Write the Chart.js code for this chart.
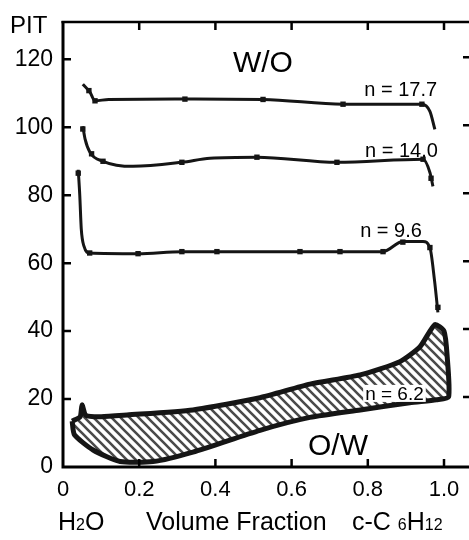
<!DOCTYPE html>
<html><head><meta charset="utf-8">
<script src="https://cdn.jsdelivr.net/npm/chart.js@4.4.1/dist/chart.umd.min.js"></script>
<style>html,body{margin:0;padding:0;background:#fff;overflow:hidden}#wrap{width:469px;height:540px}canvas{display:block}</style>
</head><body><div id="wrap"><canvas id="c" width="469" height="540"></canvas></div>
<script>
// ---- data ----
const xTicks = [0, 0.2, 0.4, 0.6, 0.8, 1.0];
const xTickLabels = ['0', '0.2', '0.4', '0.6', '0.8', '1.0'];
const yTicks = [0, 20, 40, 60, 80, 100, 120];

// n = 17.7
const n177X = [0.052, 0.071, 0.084, 0.12, 0.32, 0.525, 0.735, 0.942, 0.963, 0.976];
const n177Y = [112.7, 110.3, 107.8, 108.2, 108.3, 108.2, 106.8, 106.8, 104.7, 99.4];
const n177MX = [0.068, 0.084, 0.32, 0.525, 0.735, 0.942];
const n177MY = [110.8, 107.8, 108.3, 108.2, 106.8, 106.8];

// n = 14.0
const n140X = [0.052, 0.058, 0.071, 0.105, 0.184, 0.312, 0.386, 0.509, 0.719, 0.945, 0.963, 0.971];
const n140Y = [100.3, 96.5, 92.6, 90.0, 88.5, 89.7, 90.9, 91.2, 89.7, 90.6, 86.7, 82.6];
const n140MX = [0.052, 0.075, 0.105, 0.312, 0.509, 0.719, 0.945, 0.966];
const n140MY = [99.5, 92.2, 90.0, 89.7, 91.2, 89.7, 90.6, 85.0];

// n = 9.6
const n96X = [0.040, 0.044, 0.048, 0.055, 0.070, 0.197, 0.312, 0.404, 0.622, 0.727, 0.84, 0.892, 0.945, 0.963, 0.975, 0.984];
const n96Y = [87.5, 80, 70, 65, 63, 62.8, 63.4, 63.4, 63.4, 63.4, 63.4, 66.4, 66.4, 64.6, 55, 45.5];
const n96MX = [0.040, 0.070, 0.197, 0.312, 0.404, 0.622, 0.727, 0.84, 0.892, 0.963, 0.984];
const n96MY = [86.5, 63.0, 62.8, 63.4, 63.4, 63.4, 63.4, 63.4, 66.2, 64.6, 47.0];

// n = 6.2 (band outline: upper edge left->right, then lower edge right->left)
const n62X = [0.024, 0.045, 0.050, 0.060, 0.10, 0.168, 0.341, 0.517, 0.648, 0.78, 0.884, 0.937, 0.976, 1.0, 1.008, 1.012,
              0.98, 0.91, 0.78, 0.648, 0.517, 0.341, 0.236, 0.15, 0.079, 0.03, 0.024];
const n62Y = [13.5, 14.8, 18.3, 15.2, 14.8, 15.3, 16.8, 20.4, 24.4, 27.1, 31.0, 35.4, 41.9, 40.0, 33.0, 20.6,
              19.8, 18.9, 16.8, 14.6, 10.8, 4.4, 1.6, 1.6, 5.0, 9.5, 13.5];

const zip = (xs, ys) => xs.map((x, i) => ({x: x, y: ys[i]}));

// ---- styles ----
const INK = '#151515';
const pc = document.createElement('canvas');
pc.width = 9; pc.height = 9;
const pctx = pc.getContext('2d');
pctx.fillStyle = '#ffffff'; pctx.fillRect(0, 0, 9, 9);
pctx.strokeStyle = '#4a4a4a'; pctx.lineWidth = 2.6;
pctx.beginPath();
pctx.moveTo(-1, -1); pctx.lineTo(10, 10);
pctx.moveTo(-5.5, 3.5); pctx.lineTo(5.5, 14.5);
pctx.moveTo(3.5, -5.5); pctx.lineTo(14.5, 5.5);
pctx.stroke();
const canvas = document.getElementById('c');
const ctx0 = canvas.getContext('2d');
const bandPattern = ctx0.createPattern(pc, 'repeat');

function lineDs(pts) {
  return {data: pts, borderColor: INK, borderWidth: 3, pointRadius: 0, fill: false,
          cubicInterpolationMode: 'monotone'};
}
function markDs(pts) {
  return {data: pts, showLine: false, pointStyle: 'rect', pointRadius: 3.8,
          pointBackgroundColor: INK, pointBorderColor: INK, borderWidth: 0};
}

const decor = {
  id: 'decor',
  afterDraw(chart) {
    const c = chart.ctx, xs = chart.scales.x, ys = chart.scales.y, a = chart.chartArea;
    c.save();
    c.strokeStyle = '#000'; c.lineCap = 'butt';
    // axes frame
    c.lineWidth = 3;
    c.beginPath();
    c.moveTo(a.left, a.top - 1); c.lineTo(a.left, a.bottom + 1.5);
    c.moveTo(a.left - 1.5, a.bottom); c.lineTo(a.right, a.bottom);
    c.stroke();
    c.lineWidth = 2.5;
    c.beginPath(); c.moveTo(a.left - 1.5, a.top); c.lineTo(a.right, a.top); c.stroke();
    // ticks
    c.lineWidth = 2.5;
    c.beginPath();
    xTicks.forEach(v => {
      if (v === 0) return;
      const px = xs.getPixelForValue(v);
      c.moveTo(px, a.bottom); c.lineTo(px, a.bottom - 8);
      c.moveTo(px, a.top); c.lineTo(px, a.top + 8);
    });
    yTicks.forEach(v => {
      if (v === 0) return;
      const py = ys.getPixelForValue(v);
      c.moveTo(a.left, py); c.lineTo(a.left + 8, py);
      c.moveTo(a.right - 6, py - 2); c.lineTo(a.right, py - 2);
    });
    c.stroke();

    // annotations
    c.fillStyle = '#000';
    c.textBaseline = 'alphabetic';
    const F = 'Liberation Sans, Arial, sans-serif';
    const txt = (s, vx, vy, size, align) => {
      c.font = size + 'px ' + F; c.textAlign = align;
      c.fillText(s, xs.getPixelForValue(vx), ys.getPixelForValue(vy));
    };
    txt('W/O', 0.446, 116.4, 30, 'left');
    txt('O/W', 0.643, 3.5, 30, 'left');
    txt('n = 17.7', 0.982, 109.1, 20, 'right');
    txt('n = 14.0', 0.984, 91.4, 20, 'right');
    txt('n = 9.6', 0.942, 67.8, 20, 'right');
    // n = 6.2 with white backing
    c.font = '19px ' + F;
    const w62 = c.measureText('n = 6.2').width;
    const lx = xs.getPixelForValue(0.793), ly = ys.getPixelForValue(19.75);
    c.fillStyle = '#fff'; c.fillRect(lx - 2, ly - 15, w62 + 4, 17);
    c.fillStyle = '#000';
    txt('n = 6.2', 0.793, 19.75, 19, 'left');

    // PIT label
    c.textAlign = 'left';
    c.font = '24px ' + F;
    c.fillText('PIT', 10, 33);

    // axis title with subscripts
    const base = 530;
    const big = '25px ' + F, small = '16px ' + F;
    const parts = [['H', big, 58], ['2', small, null], ['O', big, null],
                   ['Volume Fraction', big, 146],
                   ['c-C ', big, 352], ['6', small, null], ['H', big, null], ['12', small, null]];
    let cx = 0;
    parts.forEach(p => {
      c.font = p[1];
      if (p[2] !== null) cx = p[2];
      c.fillText(p[0], cx, base);
      cx += c.measureText(p[0]).width;
    });
    c.restore();
  }
};

function noPad(s) { s.paddingLeft = 0; s.paddingRight = 0; s.paddingTop = 0; s.paddingBottom = 0; }

new Chart(canvas, {
  type: 'line',
  data: {
    datasets: [
      lineDs(zip(n177X, n177Y)), markDs(zip(n177MX, n177MY)),
      lineDs(zip(n140X, n140Y)), markDs(zip(n140MX, n140MY)),
      lineDs(zip(n96X, n96Y)), markDs(zip(n96MX, n96MY)),
      {data: zip(n62X, n62Y), fill: 'shape', backgroundColor: bandPattern, borderColor: INK,
       borderWidth: 5, tension: 0.2, pointRadius: 0}
    ]
  },
  options: {
    responsive: false,
    animation: false,
    devicePixelRatio: 1,
    layout: {autoPadding: false, padding: {top: 22, right: 0, bottom: 0, left: 0}},
    plugins: {legend: {display: false}, tooltip: {enabled: false}},
    scales: {
      x: {
        type: 'linear', min: 0, max: 1.0656,
        grid: {display: false, drawTicks: false}, border: {display: false},
        afterBuildTicks: s => { s.ticks = xTicks.map(v => ({value: v})); },
        afterFit: s => { s.height = 73; noPad(s); },
        ticks: {padding: 10, color: '#000', maxRotation: 0, autoSkip: false,
                font: {family: 'Liberation Sans, Arial, sans-serif', size: 22},
                callback: (v) => { const i = xTicks.indexOf(v); return i >= 0 ? xTickLabels[i] : ''; }}
      },
      y: {
        type: 'linear', min: 0, max: 131,
        grid: {display: false, drawTicks: false}, border: {display: false},
        afterBuildTicks: s => { s.ticks = yTicks.map(v => ({value: v})); },
        afterFit: s => { s.width = 63; noPad(s); },
        ticks: {padding: 10, color: '#000',
                font: {family: 'Liberation Sans, Arial, sans-serif', size: 23},
                callback: v => String(v)}
      }
    }
  },
  plugins: [decor]
});
</script>
</body></html>
